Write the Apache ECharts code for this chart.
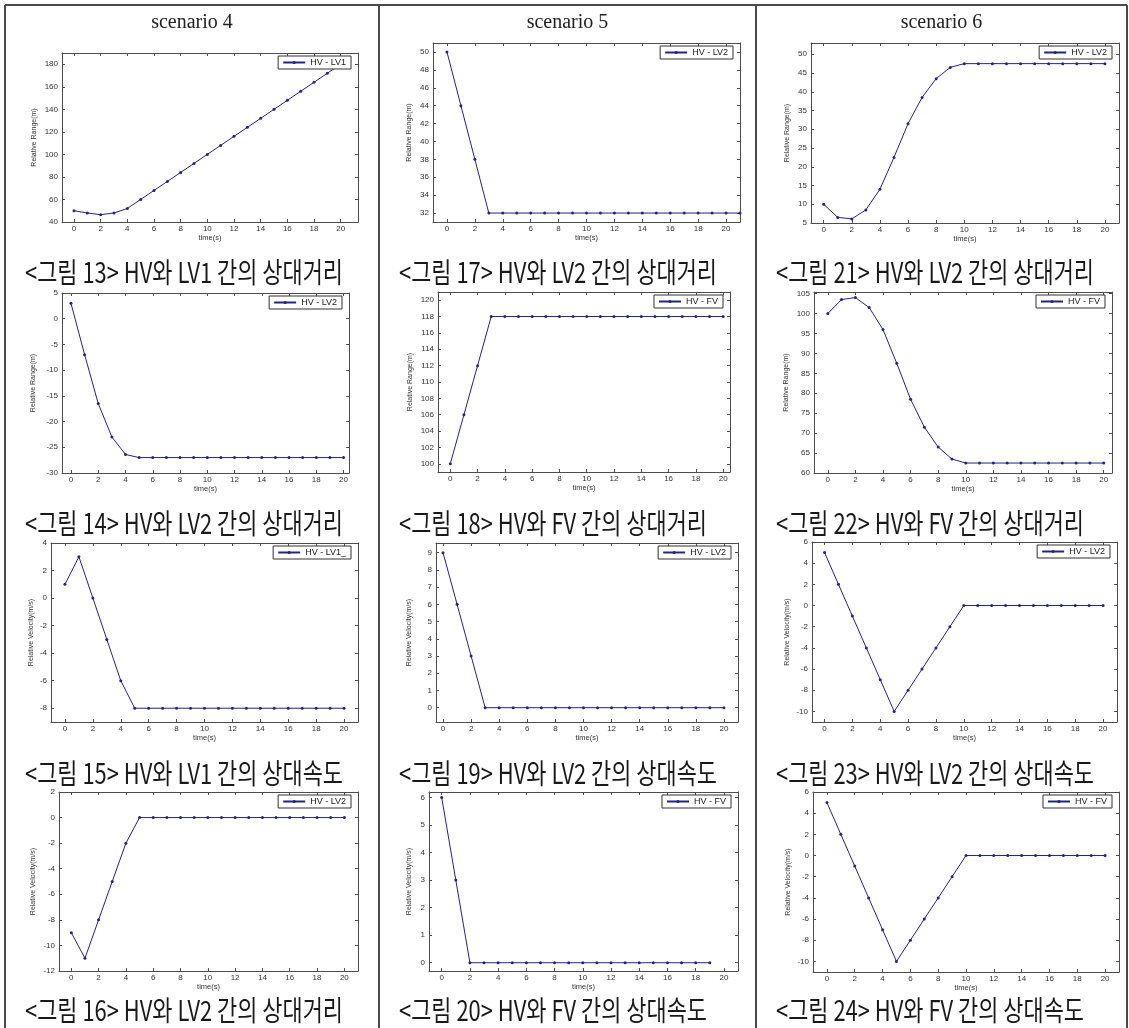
<!DOCTYPE html>
<html>
<head>
<meta charset="utf-8">
<title>scenario 4 - 6</title>
<script src="https://cdn.jsdelivr.net/npm/echarts@6.0.0/dist/echarts.min.js"></script>
<style>
  html, body { margin: 0; padding: 0; background: #fff; }
  #chart { width: 1129px; height: 1028px; }
</style>
</head>
<body>
<div id="chart"></div>
<script>
// column headers
const scenarios = ['scenario 4', 'scenario 5', 'scenario 6'];

// captions under each plot, row by row
const captions = [
  ['<그림 13> HV와 LV1 간의 상대거리', '<그림 17> HV와 LV2 간의 상대거리', '<그림 21> HV와 LV2 간의 상대거리'],
  ['<그림 14> HV와 LV2 간의 상대거리', '<그림 18> HV와 FV 간의 상대거리', '<그림 22> HV와 FV 간의 상대거리'],
  ['<그림 15> HV와 LV1 간의 상대속도', '<그림 19> HV와 LV2 간의 상대속도', '<그림 23> HV와 LV2 간의 상대속도'],
  ['<그림 16> HV와 LV2 간의 상대거리', '<그림 20> HV와 FV 간의 상대속도', '<그림 24> HV와 FV 간의 상대속도'],
];

// legend entries, same order
const legendNames = [
  ['HV - LV1', 'HV - LV2', 'HV - LV2'],
  ['HV - LV2', 'HV - FV', 'HV - FV'],
  ['HV - LV1_', 'HV - LV2', 'HV - LV2'],
  ['HV - LV2', 'HV - FV', 'HV - FV'],
];

const rangeName = 'Relative Range(m)';
const velocityName = 'Relative Velocity(m/s)';
const timeName = 'time(s)';

// x tick labels (seconds)
const timeTicks = [0, 2, 4, 6, 8, 10, 12, 14, 16, 18, 20];

// values sampled every second from t = 0
const range13 = [50, 48, 46.5, 48, 52, 60, 68, 76, 84, 92, 100, 108, 116, 124, 132, 140, 148, 156, 164, 172, 180];
const range17 = [50, 44, 38, 32, 32, 32, 32, 32, 32, 32, 32, 32, 32, 32, 32, 32, 32, 32, 32, 32, 32, 32];
const range21 = [10, 6.5, 6.1, 8.5, 14, 22.5, 31.5, 38.5, 43.5, 46.5, 47.5, 47.5, 47.5, 47.5, 47.5, 47.5, 47.5, 47.5, 47.5, 47.5, 47.5];
const range14 = [3, -7, -16.5, -23, -26.4, -27, -27, -27, -27, -27, -27, -27, -27, -27, -27, -27, -27, -27, -27, -27, -27];
const range18 = [100, 106, 112, 118, 118, 118, 118, 118, 118, 118, 118, 118, 118, 118, 118, 118, 118, 118, 118, 118, 118];
const range22 = [100, 103.5, 104, 101.5, 96, 87.5, 78.5, 71.5, 66.5, 63.5, 62.5, 62.5, 62.5, 62.5, 62.5, 62.5, 62.5, 62.5, 62.5, 62.5, 62.5];
const vel15 = [1, 3, 0, -3, -6, -8, -8, -8, -8, -8, -8, -8, -8, -8, -8, -8, -8, -8, -8, -8, -8];
const vel19 = [9, 6, 3, 0, 0, 0, 0, 0, 0, 0, 0, 0, 0, 0, 0, 0, 0, 0, 0, 0, 0];
const vel23 = [5, 2, -1, -4, -7, -10, -8, -6, -4, -2, 0, 0, 0, 0, 0, 0, 0, 0, 0, 0, 0];
const vel16 = [-9, -11, -8, -5, -2, 0, 0, 0, 0, 0, 0, 0, 0, 0, 0, 0, 0, 0, 0, 0, 0];
const vel20 = [6, 3, 0, 0, 0, 0, 0, 0, 0, 0, 0, 0, 0, 0, 0, 0, 0, 0, 0, 0];
const vel24 = [5, 2, -1, -4, -7, -10, -8, -6, -4, -2, 0, 0, 0, 0, 0, 0, 0, 0, 0, 0, 0];

// y tick labels
const ticks13 = [40, 60, 80, 100, 120, 140, 160, 180];
const ticks17 = [32, 34, 36, 38, 40, 42, 44, 46, 48, 50];
const ticks21 = [5, 10, 15, 20, 25, 30, 35, 40, 45, 50];
const ticks14 = [-30, -25, -20, -15, -10, -5, 0, 5];
const ticks18 = [100, 102, 104, 106, 108, 110, 112, 114, 116, 118, 120];
const ticks22 = [60, 65, 70, 75, 80, 85, 90, 95, 100, 105];
const ticks15 = [-8, -6, -4, -2, 0, 2, 4];
const ticks19 = [0, 1, 2, 3, 4, 5, 6, 7, 8, 9];
const ticks23 = [-10, -8, -6, -4, -2, 0, 2, 4, 6];
const ticks16 = [-12, -10, -8, -6, -4, -2, 0, 2];
const ticks20 = [0, 1, 2, 3, 4, 5, 6];
const ticks24 = [-10, -8, -6, -4, -2, 0, 2, 4, 6];

// plot boxes [left, top, right, bottom] in px, axis extents, y name gap
const panels = [
  { row: 0, col: 0, data: range13, yTicks: ticks13, yName: rangeName, box: [62, 53, 358, 222], x: [-0.9, 21.3], y: [40, 190], gap: 24 },
  { row: 0, col: 1, data: range17, yTicks: ticks17, yName: rangeName, box: [433, 43, 740, 222], x: [-1, 21], y: [31, 51], gap: 20 },
  { row: 0, col: 2, data: range21, yTicks: ticks21, yName: rangeName, box: [811, 43, 1119, 223], x: [-0.9, 21], y: [5, 53], gap: 20 },
  { row: 1, col: 0, data: range14, yTicks: ticks14, yName: rangeName, box: [62, 293, 349, 473], x: [-0.66, 20.4], y: [-30, 5], gap: 25 },
  { row: 1, col: 1, data: range18, yTicks: ticks18, yName: rangeName, box: [438, 292, 730, 472], x: [-0.9, 20.5], y: [99, 121], gap: 24 },
  { row: 1, col: 2, data: range22, yTicks: ticks22, yName: rangeName, box: [814, 292, 1112, 473], x: [-1, 20.6], y: [60, 105.4], gap: 24 },
  { row: 2, col: 0, data: vel15, yTicks: ticks15, yName: velocityName, box: [51, 543, 358, 722], x: [-1, 21], y: [-9, 4], gap: 16 },
  { row: 2, col: 1, data: vel19, yTicks: ticks19, yName: velocityName, box: [436, 543, 738, 722], x: [-0.5, 21], y: [-0.83, 9.56], gap: 23 },
  { row: 2, col: 2, data: vel23, yTicks: ticks23, yName: velocityName, box: [812, 542, 1117, 722], x: [-0.9, 21], y: [-11, 6], gap: 21 },
  { row: 3, col: 0, data: vel16, yTicks: ticks16, yName: velocityName, box: [59, 792, 358, 971], x: [-0.9, 21], y: [-12, 2], gap: 22 },
  { row: 3, col: 1, data: vel20, yTicks: ticks20, yName: velocityName, box: [429, 792, 738, 971], x: [-0.9, 21], y: [-0.3, 6.2], gap: 16 },
  { row: 3, col: 2, data: vel24, yTicks: ticks24, yName: velocityName, box: [813, 792, 1119, 972], x: [-1, 21], y: [-11, 6], gap: 21 },
];

const W = 1129;
const axisColor = '#4d4d4d';
const labelColor = '#333';
const lineColor = '#25257f';
const sans = '"Liberation Sans", Arial, sans-serif';

const colLeft = [5, 379, 756];
const colRight = [379, 756, 1127];
const captionY = [272, 523, 773, 1010];
const headerY = 23;

const grid = [];
const xAxis = [];
const yAxis = [];
const legend = [];
const series = [];

const boxAxis = (extra) => Object.assign({
  type: 'value',
  axisLine: { show: true, onZero: false, lineStyle: { color: axisColor, width: 1 } },
  splitLine: { show: false },
}, extra);

panels.forEach((p, i) => {
  const [l, t, r, b] = p.box;
  grid.push({ left: l, top: t, width: r - l, height: b - t, containLabel: false, outerBoundsMode: 'none' });

  const tickX = { show: true, inside: true, length: 3, customValues: timeTicks, lineStyle: { color: axisColor } };
  const tickY = { show: true, inside: true, length: 3, customValues: p.yTicks, lineStyle: { color: axisColor } };

  xAxis.push(boxAxis({
    gridIndex: i, position: 'bottom', min: p.x[0], max: p.x[1],
    name: timeName, nameLocation: 'middle', nameGap: 10,
    nameTextStyle: { fontSize: 7.5, color: labelColor, fontFamily: sans },
    axisTick: tickX,
    axisLabel: { customValues: timeTicks, margin: 3, fontSize: 8, color: labelColor, fontFamily: sans },
  }));
  xAxis.push(boxAxis({
    gridIndex: i, position: 'top', min: p.x[0], max: p.x[1],
    axisTick: tickX, axisLabel: { show: false },
  }));
  yAxis.push(boxAxis({
    gridIndex: i, position: 'left', min: p.y[0], max: p.y[1],
    name: p.yName, nameLocation: 'middle', nameGap: p.gap, nameRotate: 90,
    nameTextStyle: { fontSize: 7, color: labelColor, fontFamily: sans },
    axisTick: tickY,
    axisLabel: { customValues: p.yTicks, margin: 4, fontSize: 8, color: labelColor, fontFamily: sans },
  }));
  yAxis.push(boxAxis({
    gridIndex: i, position: 'right', min: p.y[0], max: p.y[1],
    axisTick: tickY, axisLabel: { show: false },
  }));

  const name = legendNames[p.row][p.col];
  series.push({
    type: 'line', name, xAxisIndex: 2 * i, yAxisIndex: 2 * i,
    data: p.data.map((v, k) => [k, v]),
    symbol: 'circle', symbolSize: 3, showSymbol: true,
    lineStyle: { color: lineColor, width: 1 },
    itemStyle: { color: lineColor },
    silent: true,
  });
  legend.push({
    data: [name], selectedMode: false,
    right: W - r + 7, top: t + 3,
    backgroundColor: '#fff', borderColor: '#333', borderWidth: 1, borderRadius: 0,
    padding: [2, 5, 2, 4], itemWidth: 22, itemHeight: 4, itemGap: 0,
    textStyle: { fontSize: 9, color: '#222', fontFamily: sans },
  });
});

// caption width is squeezed to match the condensed type of the original
const captionSize = 28;
const ctx = document.createElement('canvas').getContext('2d');
ctx.font = captionSize + 'px "Noto Sans CJK KR"';
const captionScale = 318 / ctx.measureText(captions[0][0]).width;

const graphic = [];
[[5, 5, 1127, 5], [5, 5, 5, 1028], [379, 5, 379, 1028], [756, 5, 756, 1028], [1127, 5, 1127, 1028]].forEach((s) => {
  graphic.push({ type: 'line', shape: { x1: s[0], y1: s[1], x2: s[2], y2: s[3] }, style: { stroke: '#4a4a4a', lineWidth: 2 }, silent: true });
});
scenarios.forEach((s, c) => {
  graphic.push({
    type: 'text', x: (colLeft[c] + colRight[c]) / 2, y: headerY, silent: true,
    style: { text: s, fontSize: 20, fontFamily: '"Liberation Serif", serif', fill: '#222', align: 'center', verticalAlign: 'middle', textAlign: 'center', textVerticalAlign: 'middle' },
  });
});
captions.forEach((rowCaps, r) => {
  rowCaps.forEach((txt, c) => {
    graphic.push({
      type: 'text', x: colLeft[c] + 20, y: captionY[r], scaleX: captionScale, silent: true,
      style: { text: txt, fontSize: captionSize, fontFamily: '"Noto Sans CJK KR"', fill: '#1a1a1a', align: 'left', verticalAlign: 'middle', textAlign: 'left', textVerticalAlign: 'middle' },
    });
  });
});

const myChart = echarts.init(document.getElementById('chart'), null, { renderer: 'canvas' });
myChart.setOption({
  animation: false,
  backgroundColor: '#fff',
  grid, xAxis, yAxis, legend, series, graphic,
});
</script>
</body>
</html>
